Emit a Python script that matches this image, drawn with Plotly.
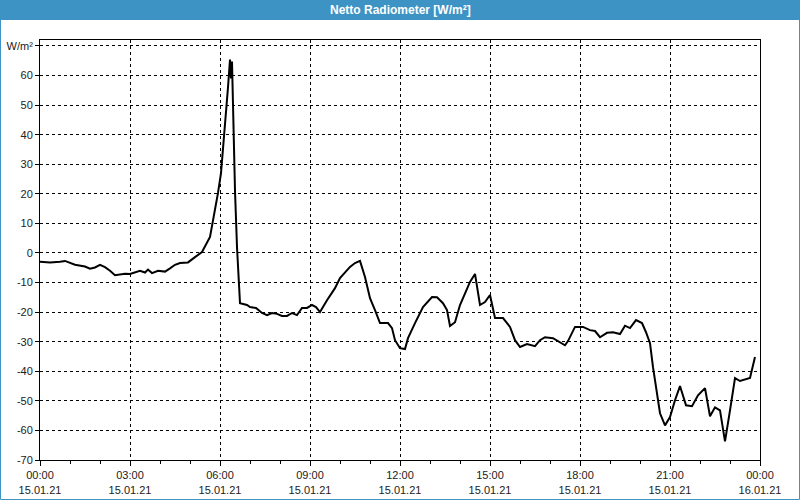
import plotly.graph_objects as go
import pandas as pd

# minutes since 15.01.21 00:00
minutes = [0, 20, 40, 50, 70, 90, 100, 110, 120, 130, 140, 150, 170, 180, 200, 210, 216, 224, 236, 250,
           260, 270, 280, 296, 310, 324, 340, 346, 352, 356, 362, 366, 372, 376, 380, 382, 384, 386, 390, 394,
           398, 400, 414, 420, 432, 444, 454, 464, 474, 484, 494, 504, 514, 524, 534, 544, 552, 560, 574, 590,
           600, 620, 630, 640, 650, 660, 670, 680, 696, 704, 710, 720, 730, 736, 750, 766, 784, 794, 806, 814,
           820, 830, 840, 860, 870, 880, 890, 900, 910, 926, 940, 950, 960, 974, 990, 1000, 1010, 1026, 1050, 1056,
           1070, 1086, 1100, 1110, 1120, 1134, 1146, 1160, 1170, 1180, 1192, 1204, 1212, 1220, 1226, 1232, 1240, 1250, 1260, 1270,
           1280, 1292, 1304, 1316, 1330, 1340, 1350, 1360, 1370, 1380, 1390, 1400, 1420, 1430]
values = [-3.0, -3.2, -3.0, -2.7, -4.0, -4.6, -5.3, -4.9, -4.0, -4.8, -6.0, -7.5, -7.0, -7.1, -6.0, -6.6, -5.6, -6.8, -6.0, -6.3,
          -5.2, -4.0, -3.4, -3.2, -1.4, 0.3, 5.4, 10.5, 15.6, 20.3, 27, 35, 45, 56, 65.4, 59, 64.7, 49.5, 21, 2,
          -10, -17, -17.6, -18.3, -18.6, -20.3, -21, -20.3, -20.6, -21.3, -21.3, -20.3, -21, -18.6, -18.6, -17.6, -18.3, -20, -16, -11.9,
          -8.5, -4.7, -3.4, -2.7, -8.1, -15.3, -19.3, -23.7, -23.7, -25.4, -29.5, -32.2, -32.5, -28.8, -23.7, -18.3, -14.9, -15, -17, -19.3,
          -24.7, -23.4, -17.6, -9.8, -7.1, -17.6, -16.6, -14.2, -22, -22, -25, -29.5, -31.8, -30.8, -31.5, -29.5, -28.5, -28.8, -31.2, -29.8,
          -25, -25, -26.1, -26.4, -28.5, -27, -26.8, -27.4, -24.6, -25.4, -22.7, -23.7, -26.8, -30.5, -38.6, -45.4, -54.2, -58.3, -55.5, -49.8,
          -45, -51.5, -51.8, -48.1, -45.7, -55.2, -52.2, -53.2, -63.7, -53.2, -42.3, -43.3, -42.3, -35.2]

y_tickvals = [70, 60, 50, 40, 30, 20, 10, 0, -10, -20, -30, -40, -50, -60, -70]
y_ticktext = ["W/m²", "60", "50", "40", "30", "20", "10", "0", "-10", "-20", "-30", "-40", "-50", "-60", "-70"]
title_text = "Netto Radiometer [W/m²]"

start = pd.Timestamp("2021-01-15 00:00")
times = [start + pd.Timedelta(minutes=m) for m in minutes]

BLUE = "rgb(61,147,196)"
FONT = "Liberation Sans"

fig = go.Figure()
fig.add_trace(go.Scatter(x=times, y=values, mode="lines",
                         line=dict(color="black", width=2), showlegend=False,
                         hoverinfo="skip"))

fig.update_layout(
    width=800, height=500,
    margin=dict(l=40, r=40, t=40, b=40, autoexpand=False),
    paper_bgcolor="white", plot_bgcolor="white",
    font=dict(family=FONT, size=11, color="#222222"),
    shapes=[
        dict(type="rect", xref="paper", yref="paper",
             x0=-40/720, x1=1+40/720, y0=1+20/420, y1=1+40/420,
             fillcolor=BLUE, line=dict(width=0), layer="below"),
        dict(type="rect", xref="paper", yref="paper",
             x0=-39.5/720, x1=1+39.5/720, y0=-39.5/420, y1=1+39.5/420,
             fillcolor="rgba(0,0,0,0)", line=dict(color=BLUE, width=1)),
    ],
    annotations=[
        dict(text="<b>" + title_text + "</b>", xref="paper", yref="paper",
             x=0.5, y=1 + 30/420, xanchor="center", yanchor="middle",
             showarrow=False, font=dict(family=FONT, size=12, color="white")),
    ],
)

fig.update_xaxes(
    type="date", automargin=False,
    range=[start, start + pd.Timedelta(hours=24)],
    tickvals=[start + pd.Timedelta(hours=h) for h in range(0, 25, 3)],
    tickformat="%H:%M<br>%d.%m.%y",
    ticks="outside", ticklen=5, tickcolor="black",
    showline=True, linecolor="black", linewidth=1, mirror=True,
    showgrid=True, gridcolor="black", gridwidth=1, griddash="3px,3px",
    minor=dict(dtick=3600000, ticks="outside", ticklen=3, tickcolor="black", showgrid=False),
    zeroline=False,
    tickfont=dict(family=FONT, size=11, color="#222222"),
)
fig.update_yaxes(
    automargin=False,
    range=[-70, 72],
    tickvals=y_tickvals, ticktext=y_ticktext,
    ticks="outside", ticklen=4, tickcolor="black",
    showline=True, linecolor="black", linewidth=1, mirror=True,
    showgrid=True, gridcolor="black", gridwidth=1, griddash="3px,3px",
    zeroline=False,
    tickfont=dict(family=FONT, size=11, color="#222222"),
)

fig.write_html("out.html")
